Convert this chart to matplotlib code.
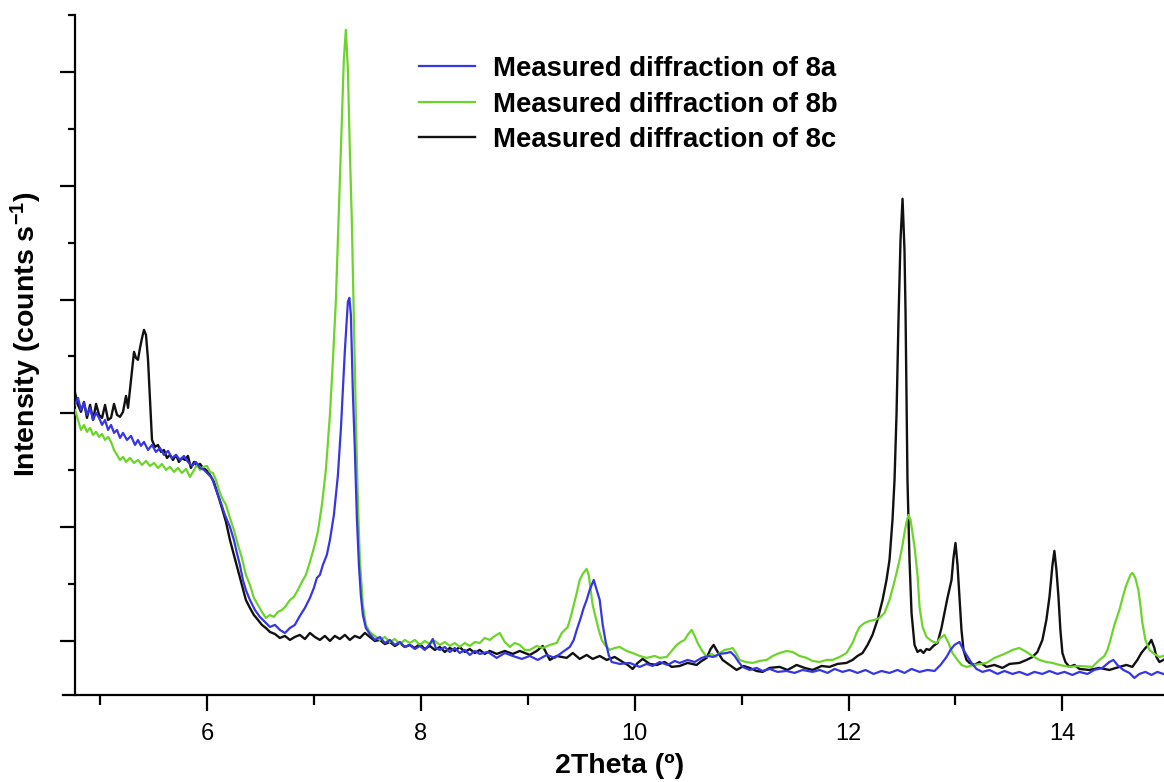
import matplotlib.pyplot as plt
from matplotlib.ticker import MultipleLocator

plt.rcParams['font.family'] = ['Liberation Sans', 'DejaVu Sans']
plt.rcParams['mathtext.fontset'] = 'custom'
plt.rcParams['mathtext.rm'] = 'Liberation Sans:bold'
plt.rcParams['mathtext.default'] = 'rm'

# 2Theta (deg) / intensity (counts s-1)
theta_8a = [4.766, 4.794, 4.822, 4.850, 4.878, 4.907, 4.935, 4.963, 4.991, 5.019,
            5.047, 5.075, 5.103, 5.131, 5.159, 5.187, 5.215, 5.252, 5.290, 5.327,
            5.355, 5.383, 5.411, 5.449, 5.486, 5.523, 5.561, 5.598, 5.636, 5.673,
            5.710, 5.748, 5.785, 5.822, 5.860, 5.897, 5.935, 5.972, 6.009, 6.047,
            6.075, 6.103, 6.131, 6.168, 6.215, 6.252, 6.280, 6.308, 6.336, 6.364,
            6.402, 6.449, 6.495, 6.542, 6.589, 6.636, 6.682, 6.729, 6.776, 6.822,
            6.869, 6.916, 6.963, 7.000, 7.028, 7.056, 7.084, 7.121, 7.150, 7.187,
            7.224, 7.252, 7.271, 7.290, 7.308, 7.318, 7.332, 7.346, 7.364, 7.383,
            7.402, 7.421, 7.439, 7.458, 7.486, 7.523, 7.570, 7.617, 7.664, 7.710,
            7.757, 7.804, 7.850, 7.897, 7.944, 7.991, 8.037, 8.084, 8.112, 8.140,
            8.178, 8.224, 8.271, 8.318, 8.364, 8.411, 8.458, 8.505, 8.551, 8.626,
            8.710, 8.785, 8.860, 8.944, 9.019, 9.093, 9.178, 9.252, 9.327, 9.393,
            9.430, 9.458, 9.495, 9.523, 9.551, 9.579, 9.617, 9.645, 9.673, 9.701,
            9.729, 9.757, 9.785, 9.860, 9.953, 10.047, 10.112, 10.168, 10.234, 10.308,
            10.374, 10.421, 10.495, 10.561, 10.626, 10.692, 10.729, 10.794, 10.860, 10.897,
            10.935, 10.972, 11.009, 11.075, 11.140, 11.196, 11.262, 11.336, 11.421, 11.495,
            11.570, 11.664, 11.729, 11.804, 11.869, 11.944, 12.009, 12.084, 12.159, 12.234,
            12.308, 12.383, 12.458, 12.523, 12.589, 12.664, 12.738, 12.804, 12.860, 12.916,
            12.953, 12.991, 13.037, 13.065, 13.103, 13.150, 13.196, 13.252, 13.318, 13.393,
            13.458, 13.533, 13.598, 13.673, 13.738, 13.813, 13.879, 13.953, 14.019, 14.093,
            14.159, 14.234, 14.299, 14.374, 14.439, 14.477, 14.514, 14.570, 14.626, 14.673,
            14.720, 14.776, 14.832, 14.888, 14.944]
counts_8a = [3074, 3136, 3030, 3092, 2986, 3048, 2942, 3004, 2960, 2898,
             2942, 2854, 2898, 2828, 2854, 2784, 2828, 2766, 2802, 2722,
             2766, 2714, 2749, 2678, 2722, 2661, 2696, 2634, 2670, 2608,
             2634, 2590, 2626, 2573, 2538, 2573, 2520, 2503, 2468, 2433,
             2353, 2283, 2213, 2107, 2002, 1887, 1773, 1668, 1536, 1448,
             1360, 1272, 1211, 1167, 1123, 1141, 1097, 1070, 1114, 1141,
             1220, 1290, 1378, 1466, 1554, 1580, 1668, 1756, 1887, 2107,
             2450, 2854, 3197, 3557, 3821, 3980, 4015, 3865, 3197, 2678,
             2081, 1668, 1404, 1228, 1114, 1061, 1009, 1035, 982, 1009,
             965, 991, 947, 965, 929, 956, 921, 973, 1017, 938,
             921, 947, 903, 938, 894, 921, 877, 912, 886, 903,
             851, 894, 868, 842, 868, 833, 877, 851, 903, 947,
             1009, 1097, 1202, 1290, 1360, 1448, 1536, 1448, 1360, 1141,
             991, 877, 815, 798, 807, 772, 798, 780, 815, 789,
             824, 807, 833, 815, 851, 868, 859, 886, 894, 903,
             868, 815, 772, 745, 763, 736, 754, 728, 736, 719,
             745, 728, 745, 719, 754, 728, 745, 719, 745, 710,
             736, 719, 745, 719, 754, 728, 745, 736, 789, 859,
             921, 965, 991, 938, 877, 807, 754, 728, 745, 710,
             736, 710, 728, 701, 728, 710, 736, 710, 728, 701,
             728, 710, 745, 763, 815, 833, 789, 745, 719, 675,
             710, 728, 701, 728, 710]

theta_8b = [4.766, 4.794, 4.822, 4.850, 4.878, 4.907, 4.935, 4.963, 4.991, 5.019,
            5.047, 5.075, 5.103, 5.131, 5.159, 5.187, 5.215, 5.243, 5.280, 5.318,
            5.355, 5.393, 5.430, 5.467, 5.505, 5.542, 5.579, 5.617, 5.654, 5.692,
            5.729, 5.766, 5.804, 5.841, 5.879, 5.907, 5.935, 5.963, 6.000, 6.028,
            6.056, 6.084, 6.112, 6.140, 6.178, 6.215, 6.252, 6.290, 6.327, 6.364,
            6.402, 6.439, 6.477, 6.514, 6.551, 6.589, 6.626, 6.664, 6.701, 6.738,
            6.776, 6.813, 6.850, 6.888, 6.925, 6.963, 7.000, 7.037, 7.075, 7.112,
            7.150, 7.178, 7.206, 7.234, 7.262, 7.280, 7.299, 7.318, 7.336, 7.355,
            7.374, 7.393, 7.411, 7.430, 7.458, 7.486, 7.523, 7.570, 7.617, 7.664,
            7.710, 7.757, 7.804, 7.850, 7.897, 7.944, 7.991, 8.037, 8.084, 8.131,
            8.178, 8.224, 8.271, 8.318, 8.364, 8.411, 8.458, 8.505, 8.551, 8.598,
            8.645, 8.692, 8.738, 8.785, 8.832, 8.878, 8.925, 8.972, 9.019, 9.084,
            9.140, 9.206, 9.271, 9.299, 9.318, 9.346, 9.374, 9.402, 9.430, 9.458,
            9.486, 9.514, 9.551, 9.570, 9.589, 9.607, 9.636, 9.664, 9.692, 9.729,
            9.766, 9.813, 9.860, 9.925, 9.981, 10.047, 10.112, 10.187, 10.234, 10.299,
            10.346, 10.393, 10.430, 10.467, 10.495, 10.533, 10.561, 10.589, 10.626, 10.673,
            10.720, 10.757, 10.794, 10.841, 10.888, 10.916, 10.953, 10.981, 11.037, 11.103,
            11.168, 11.234, 11.290, 11.355, 11.421, 11.477, 11.542, 11.607, 11.664, 11.729,
            11.794, 11.850, 11.916, 11.981, 12.009, 12.037, 12.075, 12.103, 12.150, 12.196,
            12.243, 12.290, 12.336, 12.383, 12.421, 12.449, 12.477, 12.505, 12.523, 12.542,
            12.561, 12.580, 12.598, 12.617, 12.645, 12.664, 12.692, 12.729, 12.776, 12.822,
            12.860, 12.897, 12.935, 12.972, 13.019, 13.056, 13.103, 13.178, 13.290, 13.364,
            13.411, 13.477, 13.533, 13.598, 13.664, 13.720, 13.785, 13.850, 13.907, 13.972,
            14.065, 14.159, 14.280, 14.346, 14.393, 14.421, 14.449, 14.486, 14.533, 14.570,
            14.598, 14.636, 14.654, 14.682, 14.710, 14.729, 14.748, 14.776, 14.813, 14.860,
            14.907, 14.944]
counts_8b = [3030, 2942, 2854, 2898, 2837, 2872, 2810, 2837, 2793, 2819,
             2766, 2793, 2749, 2678, 2634, 2590, 2617, 2573, 2608, 2564,
             2590, 2547, 2582, 2538, 2564, 2520, 2556, 2503, 2529, 2485,
             2520, 2476, 2512, 2441, 2503, 2547, 2503, 2529, 2538, 2485,
             2476, 2415, 2327, 2257, 2195, 2081, 1975, 1844, 1729, 1580,
             1492, 1378, 1316, 1255, 1202, 1228, 1211, 1255, 1272, 1307,
             1360, 1387, 1448, 1518, 1580, 1694, 1817, 1958, 2195, 2503,
             2986, 3470, 3997, 4788, 5579, 6107, 6370, 6019, 5315, 4683,
             3821, 2942, 2239, 1712, 1316, 1141, 1079, 1044, 1009, 1035,
             991, 1017, 973, 1009, 982, 1009, 965, 1000, 973, 1000,
             965, 991, 956, 982, 947, 982, 956, 991, 982, 1026,
             1009, 1044, 1070, 991, 947, 982, 965, 921, 921, 956,
             938, 965, 982, 1035, 1070, 1097, 1123, 1211, 1316, 1422,
             1536, 1589, 1633, 1580, 1448, 1316, 1202, 1097, 1009, 956,
             921, 938, 947, 912, 894, 868, 851, 868, 851, 859,
             912, 965, 991, 1009, 1053, 1097, 1044, 982, 921, 859,
             886, 859, 894, 921, 929, 938, 886, 833, 815, 807,
             824, 833, 868, 894, 912, 903, 868, 851, 824, 815,
             833, 833, 859, 894, 938, 982, 1070, 1123, 1158, 1176,
             1185, 1202, 1246, 1360, 1492, 1598, 1712, 1844, 1949, 2046,
             2107, 2063, 1949, 1826, 1580, 1299, 1123, 1035, 1000, 982,
             1026, 1053, 982, 894, 833, 789, 772, 789, 807, 851,
             868, 894, 921, 938, 903, 868, 833, 815, 807, 789,
             772, 780, 772, 833, 868, 921, 1009, 1141, 1272, 1404,
             1492, 1580, 1598, 1554, 1448, 1316, 1158, 1009, 921, 886,
             859, 868]

theta_8c = [4.766, 4.794, 4.822, 4.850, 4.878, 4.907, 4.935, 4.963, 4.991, 5.019,
            5.047, 5.075, 5.103, 5.131, 5.159, 5.187, 5.215, 5.243, 5.262, 5.280,
            5.299, 5.318, 5.336, 5.355, 5.374, 5.393, 5.411, 5.430, 5.449, 5.467,
            5.486, 5.514, 5.542, 5.570, 5.598, 5.626, 5.654, 5.682, 5.710, 5.738,
            5.766, 5.794, 5.822, 5.850, 5.879, 5.907, 5.935, 5.963, 5.991, 6.028,
            6.065, 6.103, 6.140, 6.178, 6.215, 6.252, 6.290, 6.327, 6.364, 6.402,
            6.439, 6.477, 6.514, 6.551, 6.589, 6.636, 6.682, 6.729, 6.776, 6.822,
            6.869, 6.916, 6.963, 7.009, 7.056, 7.103, 7.150, 7.196, 7.243, 7.290,
            7.336, 7.383, 7.430, 7.477, 7.523, 7.570, 7.617, 7.664, 7.710, 7.757,
            7.804, 7.850, 7.897, 7.944, 7.991, 8.037, 8.084, 8.131, 8.178, 8.224,
            8.271, 8.318, 8.364, 8.411, 8.458, 8.505, 8.551, 8.598, 8.645, 8.710,
            8.785, 8.860, 8.925, 9.019, 9.084, 9.140, 9.206, 9.271, 9.364, 9.421,
            9.486, 9.551, 9.607, 9.673, 9.738, 9.813, 9.888, 9.935, 9.981, 10.028,
            10.075, 10.140, 10.206, 10.280, 10.346, 10.421, 10.495, 10.579, 10.626, 10.673,
            10.710, 10.738, 10.776, 10.822, 10.888, 10.953, 11.019, 11.075, 11.140, 11.196,
            11.262, 11.355, 11.430, 11.514, 11.589, 11.664, 11.748, 11.822, 11.897, 11.981,
            12.037, 12.084, 12.131, 12.178, 12.224, 12.271, 12.318, 12.355, 12.383, 12.411,
            12.430, 12.449, 12.467, 12.486, 12.505, 12.523, 12.533, 12.542, 12.551, 12.570,
            12.589, 12.617, 12.645, 12.673, 12.701, 12.729, 12.757, 12.794, 12.832, 12.869,
            12.897, 12.925, 12.963, 12.981, 13.000, 13.019, 13.037, 13.056, 13.075, 13.103,
            13.131, 13.178, 13.224, 13.290, 13.364, 13.439, 13.505, 13.598, 13.664, 13.720,
            13.766, 13.813, 13.850, 13.879, 13.907, 13.925, 13.944, 13.963, 13.981, 14.000,
            14.028, 14.065, 14.112, 14.159, 14.252, 14.346, 14.439, 14.533, 14.598, 14.654,
            14.701, 14.738, 14.776, 14.804, 14.832, 14.860, 14.879, 14.907, 14.944]
counts_8c = [3180, 3074, 3013, 3100, 2960, 3074, 2942, 3083, 2986, 2960,
             3074, 2942, 2960, 3083, 2986, 2969, 3013, 3153, 3048, 3206,
             3364, 3540, 3487, 3470, 3575, 3663, 3733, 3689, 3470, 3118,
             2766, 2705, 2722, 2661, 2678, 2608, 2634, 2590, 2634, 2573,
             2608, 2590, 2626, 2520, 2573, 2538, 2556, 2520, 2503, 2459,
             2397, 2283, 2169, 2046, 1887, 1756, 1624, 1492, 1360, 1290,
             1228, 1185, 1141, 1114, 1079, 1061, 1026, 1044, 1009, 1035,
             1053, 1017, 1070, 1035, 1009, 1044, 1000, 1044, 1017, 1053,
             1009, 1044, 1026, 1070, 1035, 1000, 1009, 973, 991, 956,
             982, 947, 965, 938, 973, 929, 956, 921, 947, 903,
             938, 912, 947, 903, 929, 894, 921, 886, 912, 886,
             912, 886, 912, 877, 912, 956, 833, 868, 851, 894,
             842, 877, 842, 868, 833, 859, 815, 789, 754, 807,
             842, 798, 789, 815, 772, 780, 807, 789, 824, 851,
             929, 965, 903, 833, 789, 745, 780, 763, 736, 728,
             763, 772, 745, 789, 763, 745, 780, 772, 798, 807,
             833, 868, 894, 965, 1053, 1185, 1360, 1536, 1712, 2063,
             2415, 3004, 3821, 4524, 4885, 4436, 3883, 3118, 2415, 1712,
             1246, 965, 903, 921, 894, 929, 921, 956, 982, 1114,
             1246, 1378, 1536, 1729, 1861, 1668, 1387, 1097, 921, 833,
             807, 789, 815, 772, 789, 763, 798, 807, 833, 859,
             903, 1009, 1185, 1387, 1668, 1791, 1624, 1387, 1097, 894,
             815, 772, 789, 754, 745, 763, 745, 772, 789, 772,
             833, 894, 938, 965, 1009, 938, 859, 815, 833]

labels = ['Measured diffraction of 8a', 'Measured diffraction of 8b',
          'Measured diffraction of 8c']
colors = ['#3636e4', '#6cd42a', '#111111']

fig = plt.figure(figsize=(11.64, 7.82), dpi=100)
ax = fig.add_axes([75 / 1164, 1 - 695 / 782, 1 - 75 / 1164, 680 / 782])

ax.plot(theta_8a, counts_8a, color=colors[0], lw=1.6, label=labels[0], zorder=4)
ax.plot(theta_8b, counts_8b, color=colors[1], lw=1.6, label=labels[1], zorder=3)
ax.plot(theta_8c, counts_8c, color=colors[2], lw=1.7, label=labels[2], zorder=2)

ax.set_xlim(4.766, 14.95)
ax.set_ylim(525, 6500)

ax.spines['top'].set_visible(False)
ax.spines['right'].set_visible(False)
ax.spines['left'].set_linewidth(1.6)
ax.spines['bottom'].set_linewidth(1.6)
ax.spines['bottom'].set_bounds(4.655, 14.95)

ax.xaxis.set_major_locator(MultipleLocator(2))
ax.xaxis.set_minor_locator(MultipleLocator(1))
ax.yaxis.set_major_locator(MultipleLocator(1000))
ax.yaxis.set_minor_locator(MultipleLocator(500))
ax.tick_params(axis='x', which='major', direction='out', length=11.5, width=1.6,
               labelsize=17, pad=8.5)
ax.tick_params(axis='x', which='minor', direction='out', length=7, width=1.6)
ax.tick_params(axis='y', which='major', direction='out', length=10.8, width=1.6)
ax.tick_params(axis='y', which='minor', direction='out', length=5, width=1.6)
ax.tick_params(axis='y', labelleft=False)

ax.set_xlabel('2Theta (º)', fontsize=20.5, fontweight='bold', labelpad=6)
ax.set_ylabel('Intensity (counts s$^{-1}$)', fontsize=20.5, fontweight='bold')
ax.yaxis.set_label_coords(-0.0285, 0.53)

leg = ax.legend(loc='upper left', bbox_to_anchor=(0.293, 0.976), frameon=False,
                prop={'weight': 'bold', 'size': 19.8}, handlelength=2.05,
                handletextpad=0.65, labelspacing=0.345)

fig.savefig('out.png', dpi=100)
